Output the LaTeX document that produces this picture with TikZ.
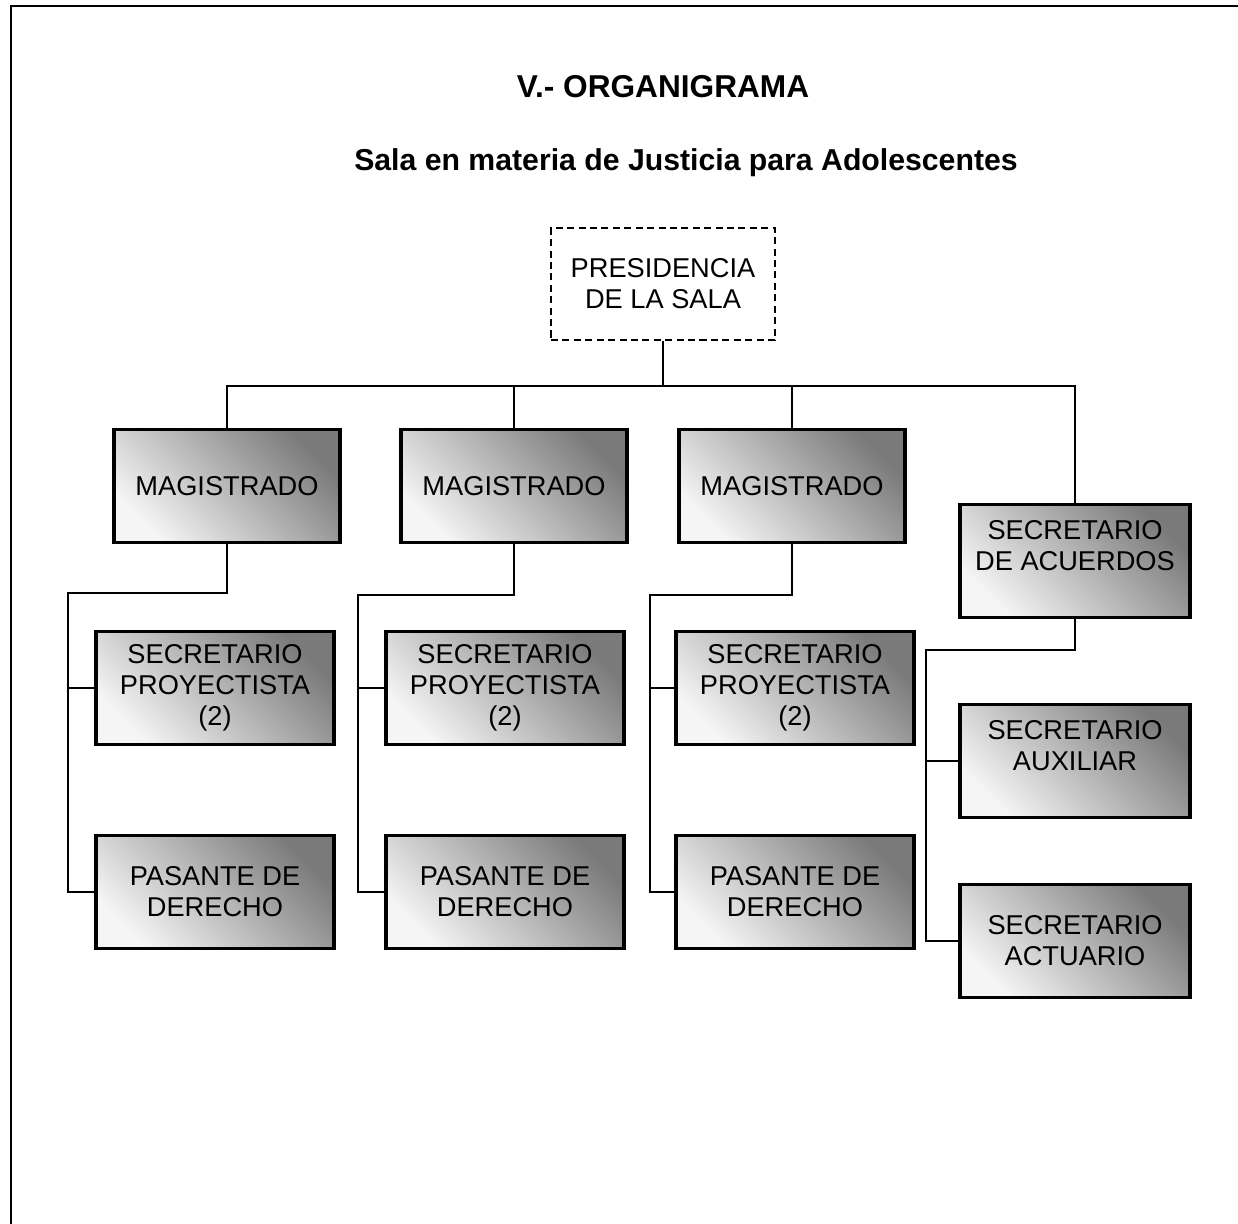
\documentclass[tikz,border=0pt]{standalone}
\usepackage{fontspec}
\setmainfont{Liberation Sans}
\usetikzlibrary{positioning}

\tikzset{
  cargo/.style={draw, line width=2pt, top color=black!52, bottom color=black!4,
                shading angle=-45, align=center, inner sep=0pt,
                minimum height=2.26cm, font=\fontsize{15.5}{17.6}\selectfont},
  mag/.style={cargo, minimum width=4.52cm},
  sub/.style={cargo, minimum width=4.76cm},
  acu/.style={cargo, minimum width=4.6cm},
  liga/.style={line width=0.8pt}
}

\begin{document}
\begin{tikzpicture}[x=0.02cm, y=-0.02cm]
	\useasboundingbox (0,0) rectangle (1238,1224);
	\draw[line width=1.2pt] (1238,6) -- (11,6) -- (11,1224);

	\node[font=\bfseries\fontsize{18}{21}\selectfont] (t1) at (663,87) {V.- ORGANIGRAMA};
	\node[font=\bfseries\fontsize{17.2}{21}\selectfont] (t2) at (686,163) {Sala en materia de Justicia para Adolescentes};

	\node[draw, dash pattern=on 4pt off 2.5pt, line width=1pt, align=center,
	      minimum width=4.48cm, minimum height=2.24cm,
	      font=\fontsize{15.5}{17.6}\selectfont] (0) at (663,284) {PRESIDENCIA\\DE LA SALA};

	\begin{scope}[every node/.style={mag}]
		\node (1) at (227,486) {MAGISTRADO};
		\node (2) at (514,486) {MAGISTRADO};
		\node (3) at (792,486) {MAGISTRADO};
	\end{scope}

	\begin{scope}[every node/.style={sub}]
		\node (5) at (215,688) {SECRETARIO\\PROYECTISTA\\(2)};
		\node (6) at (215,892) {PASANTE DE\\DERECHO};
		\node (7) at (505,688) {SECRETARIO\\PROYECTISTA\\(2)};
		\node (8) at (505,892) {PASANTE DE\\DERECHO};
		\node (9) at (795,688) {SECRETARIO\\PROYECTISTA\\(2)};
		\node (10) at (795,892) {PASANTE DE\\DERECHO};
	\end{scope}

	\begin{scope}[every node/.style={acu}]
		\node (4) at (1075,561) {SECRETARIO\\DE ACUERDOS\\~};
		\node (11) at (1075,761) {SECRETARIO\\AUXILIAR\\~};
		\node (12) at (1075,941) {SECRETARIO\\ACTUARIO};
	\end{scope}

	\coordinate (b) at (663,386);
	\coordinate (c1) at (68,593);
	\coordinate (c2) at (358,595);
	\coordinate (c3) at (650,595);
	\coordinate (c4) at (926,650);

	\begin{scope}[liga]
		\draw (0.south) -- (b);
		\draw (1.north) |- (b) -| (4.north);
		\draw (2.north) -- (2.north |- b);
		\draw (3.north) -- (3.north |- b);

		\draw (1.south) |- (c1) |- (6.west);
		\draw (c1 |- 5.west) -- (5.west);
		\draw (2.south) |- (c2) |- (8.west);
		\draw (c2 |- 7.west) -- (7.west);
		\draw (3.south) |- (c3) |- (10.west);
		\draw (c3 |- 9.west) -- (9.west);
		\draw (4.south) |- (c4) |- (12.west);
		\draw (c4 |- 11.west) -- (11.west);
	\end{scope}
\end{tikzpicture}
\end{document}
